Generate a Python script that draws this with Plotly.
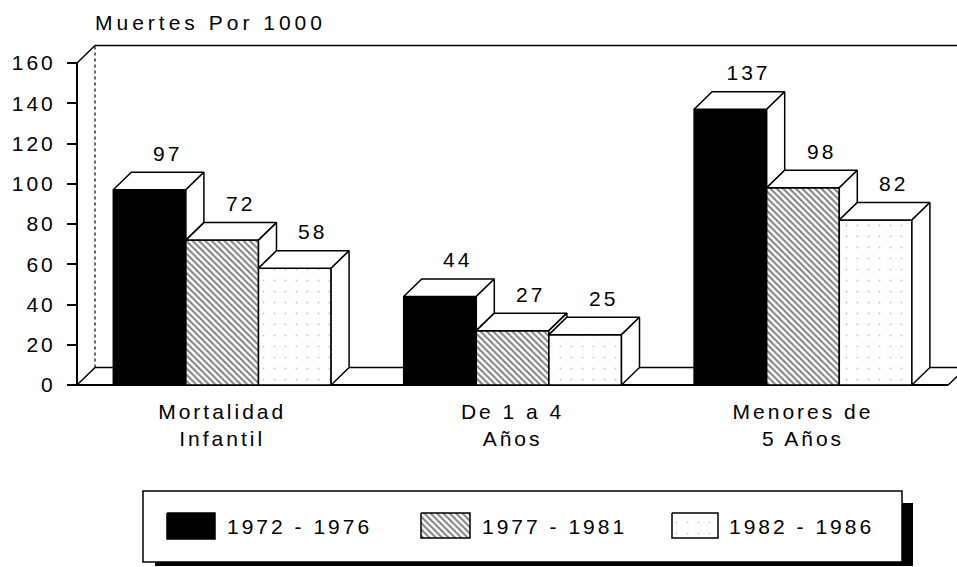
import plotly.graph_objects as go

# ---------------- data ----------------
categories = ["Mortalidad<br>Infantil", "De 1 a 4<br>Años", "Menores de<br>5 Años"]
periods = ["1972 - 1976", "1977 - 1981", "1982 - 1986"]
values_1972_1976 = [97, 44, 137]
values_1977_1981 = [72, 27, 98]
values_1982_1986 = [58, 25, 82]
y_ticks = [0, 20, 40, 60, 80, 100, 120, 140, 160]
y_title = "Muertes Por 1000"

series = [values_1972_1976, values_1977_1981, values_1982_1986]

# ---------------- geometry / style ----------------
W, H = 957, 567
FONT = "Liberation Sans, Arial, Helvetica, sans-serif"
FS = 21
AX_LEFT_PX = 77      # pixel of the front-left wall edge
PLOT_LEFT_PX = 60
Y0_PX = 385
YTOP_PX = 63
CAT_PX = 290.4
DEPTH_X_PX = 18
DEPTH_Y_PX = 17.5

ymax = y_ticks[-1]
k = (Y0_PX - YTOP_PX) / ymax
x_lo = -0.5 - (AX_LEFT_PX - PLOT_LEFT_PX) / CAT_PX
x_hi = -0.5 + (W - AX_LEFT_PX) / CAT_PX
y_lo = -(H - Y0_PX) / k
y_hi = ymax + YTOP_PX / k
dx = DEPTH_X_PX / CAT_PX
dy = DEPTH_Y_PX / k

n = len(series)
group_w = 0.75
bar_w = group_w / n
xs = list(range(len(categories)))

styles = [
    dict(color="black", pattern=dict(shape="")),
    dict(color="white", pattern=dict(shape="\\", fgcolor="black", bgcolor="white",
                                     size=4.5, solidity=0.45)),
    dict(color="white", pattern=dict(shape=".", fgcolor="#9a9a9a", bgcolor="white",
                                     size=11, solidity=0.03)),
]

fig = go.Figure()

# front faces (bars)
for i, vals in enumerate(series):
    st = styles[i]
    fig.add_trace(go.Bar(
        x=xs, y=vals, width=bar_w, offset=-group_w / 2 + i * bar_w,
        marker=dict(color=st["color"], pattern=st["pattern"],
                    line=dict(color="black", width=1.5)),
        showlegend=False, hoverinfo="skip", xaxis="x", yaxis="y"))

# top and side faces
annotations = []
for c in xs:
    for i in range(n):
        v = series[i][c]
        x0 = c - group_w / 2 + i * bar_w
        x1 = x0 + bar_w
        tx = [x0, x1, x1 + dx, x0 + dx, x0]
        ty = [v, v, v + dy, v + dy, v]
        fig.add_trace(go.Scatter(x=tx, y=ty, fill="toself", fillcolor="white", mode="lines",
                                 line=dict(color="black", width=1.5),
                                 showlegend=False, hoverinfo="skip"))
        base = min(series[i + 1][c], v) if i < n - 1 else 0
        sx = [x1, x1, x1 + dx, x1 + dx, x1]
        sy = [base, v, v + dy, base + dy, base]
        fig.add_trace(go.Scatter(x=sx, y=sy, fill="toself", fillcolor="white", mode="lines",
                                 line=dict(color="black", width=1.5),
                                 showlegend=False, hoverinfo="skip"))
        annotations.append(dict(x=x0 + bar_w / 2 + dx, y=v + dy, xref="x", yref="y",
                                text=str(v), showarrow=False, yanchor="middle",
                                yshift=19, font=dict(family=FONT, size=FS, color="black")))

# walls and floor
wall_x = -0.5
floor_end = len(categories) - 0.5
shapes = []
def seg(p, q, w=1.5, dash="solid", ref=("x", "y")):
    shapes.append(dict(type="line", xref=ref[0], yref=ref[1], x0=p[0], y0=p[1],
                       x1=q[0], y1=q[1], layer="below",
                       line=dict(color="black", width=w, dash=dash)))

seg((wall_x, 0), (wall_x, ymax), 2)
seg((wall_x, ymax), (wall_x + dx, ymax + dy))
seg((wall_x + dx, ymax + dy), (x_hi, ymax + dy))
seg((wall_x + dx, dy), (wall_x + dx, ymax + dy), 1.2, "dot")
seg((wall_x, 0), (wall_x + dx, dy))
seg((wall_x + dx, dy), (x_hi, dy))
seg((wall_x, 0), (floor_end, 0), 2)
seg((floor_end, 0), (floor_end + dx, dy))

# ---------------- legend (pixel-space helper axes) ----------------
LEG_BOX = (143, 491, 902, 562)
LEG_SHADOW = (155, 503, 913, 566)
LEG_SWATCH = [(167, 513, 215, 539), (421, 513, 470, 538), (672, 513, 718, 538)]
LEG_TEXT_X = [225, 480, 727]
LEG_TEXT_Y = 526

shapes.append(dict(type="rect", xref="x2", yref="y2", x0=LEG_SHADOW[0], y0=LEG_SHADOW[1],
                   x1=LEG_SHADOW[2], y1=LEG_SHADOW[3], fillcolor="black",
                   line=dict(width=0), layer="below"))
shapes.append(dict(type="rect", xref="x2", yref="y2", x0=LEG_BOX[0], y0=LEG_BOX[1],
                   x1=LEG_BOX[2], y1=LEG_BOX[3], fillcolor="white",
                   line=dict(color="black", width=1.5), layer="below"))

for i, name in enumerate(periods):
    a, b, c2, d = LEG_SWATCH[i]
    st = styles[i]
    fp = st["pattern"] if st["pattern"]["shape"] else None
    kw = dict(fillpattern=fp) if fp else {}
    fig.add_trace(go.Scatter(x=[a, c2, c2, a, a], y=[b, b, d, d, b], fill="toself",
                             fillcolor=st["color"], mode="lines",
                             line=dict(color="black", width=1.5),
                             xaxis="x2", yaxis="y2", showlegend=False,
                             hoverinfo="skip", **kw))
    annotations.append(dict(x=LEG_TEXT_X[i], y=LEG_TEXT_Y, xref="x2", yref="y2",
                            text=name, showarrow=False, xanchor="left", align="left",
                            yanchor="middle",
                            font=dict(family=FONT, size=FS, color="black")))

title_index = len(annotations)
annotations.append(dict(x=93, y=22, xref="x2", yref="y2", text=y_title, showarrow=False,
                        xanchor="left", align="left", yanchor="middle",
                        font=dict(family=FONT, size=FS, color="black")))

fig.update_layout(
    width=W, height=H, autosize=False,
    margin=dict(l=0, r=0, t=0, b=0),
    paper_bgcolor="white", plot_bgcolor="rgba(0,0,0,0)",
    barmode="overlay",
    font=dict(family=FONT, size=FS, color="black"),
    xaxis=dict(domain=[PLOT_LEFT_PX / W, 1], range=[x_lo, x_hi], anchor="free",
               position=(H - Y0_PX) / H, tickmode="array", tickvals=xs, ticktext=categories,
               ticks="", showline=False, showgrid=False, zeroline=False,
               tickfont=dict(family=FONT, size=FS, color="black"), ticklabelstandoff=12,
               fixedrange=True),
    yaxis=dict(domain=[0, 1], range=[y_lo, y_hi], anchor="free", position=AX_LEFT_PX / W,
               tickmode="array", tickvals=y_ticks, ticks="outside", ticklen=10, tickwidth=2,
               tickcolor="black", showline=False, showgrid=False, zeroline=False,
               tickfont=dict(family=FONT, size=FS, color="black"), ticklabelstandoff=7,
               fixedrange=True),
    xaxis2=dict(domain=[0, 1], range=[0, W], anchor="y2", visible=False, fixedrange=True),
    yaxis2=dict(domain=[0, 1], range=[H, 0], anchor="x2", visible=False, fixedrange=True),
    shapes=shapes,
    annotations=annotations,
    showlegend=False,
)

css = ("html,body{margin:0;padding:0;overflow:hidden;}"
       "svg text{letter-spacing:3px;}"
       "g.annotation[data-index=\"%d\"] text{letter-spacing:4px;}" % title_index)
post = ("var s=document.createElement('style');"
        "s.textContent='" + css.replace("'", "\\'") + "';"
        "document.head.appendChild(s);")
fig.write_html("out.html", post_script=post, config={"displayModeBar": False})
